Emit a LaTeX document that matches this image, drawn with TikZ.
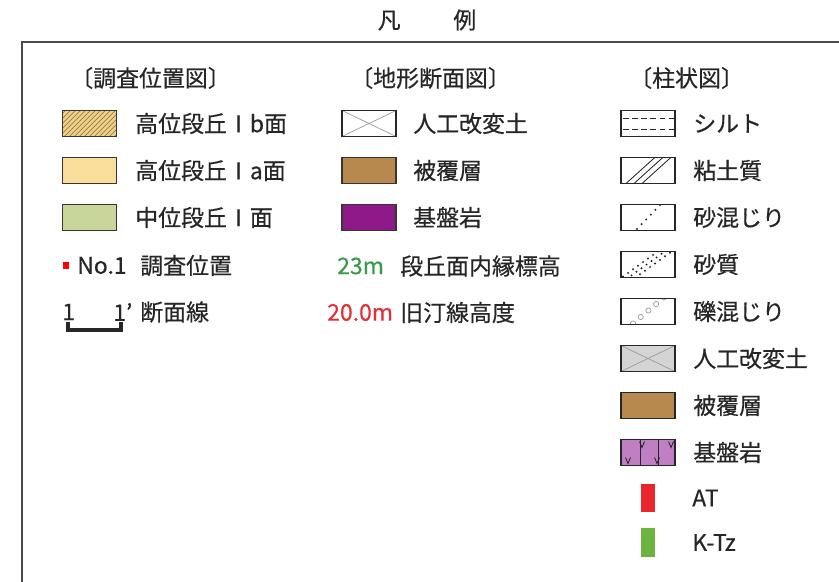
\documentclass[tikz,border=0pt]{standalone}
\usepackage{fontspec}
\setmainfont{Noto Sans CJK JP}[FakeBold=0.5]
\usetikzlibrary{positioning}

\definecolor{ink}{HTML}{262626}
\definecolor{framegray}{HTML}{4A4A4A}
\definecolor{boxline}{HTML}{3A3530}
\definecolor{terraceIb}{HTML}{EFD28A}
\definecolor{hatchbrown}{HTML}{9A7A45}
\definecolor{terraceIa}{HTML}{F9DD9A}
\definecolor{terraceM}{HTML}{C8D69C}
\definecolor{coverbrown}{HTML}{B8894F}
\definecolor{rockpurple}{HTML}{8E1A8A}
\definecolor{rockpink}{HTML}{C07FC2}
\definecolor{fillgray}{HTML}{D4D4D4}
\definecolor{pebble}{HTML}{9A9A9A}
\definecolor{atred}{HTML}{E8262C}
\definecolor{ktzgreen}{HTML}{6DB33F}
\definecolor{elevgreen}{HTML}{3A9A4A}
\definecolor{elevred}{HTML}{E0303A}

\begin{document}
\begin{tikzpicture}[x=0.025cm, y=-0.025cm]
	\tikzset{swatch/.style = {draw=boxline, line width=0.9pt, minimum width=1.35cm, minimum height=0.65cm, inner sep=0pt}}
	\tikzset{item/.style = {anchor=west, inner sep=0pt, text=ink, font=\fontsize{16.3}{18}\selectfont}}
	\tikzset{bar/.style = {minimum width=0.35cm, minimum height=0.7cm, inner sep=0pt}}
	\tikzset{crossed/.style = {path picture={
		\draw[pebble, line width=0.5pt] (path picture bounding box.south west) -- (path picture bounding box.north east);
		\draw[pebble, line width=0.5pt] (path picture bounding box.north west) -- (path picture bounding box.south east);}}}
	\useasboundingbox (0,0) rectangle (839,582);
	\draw[framegray, line width=2pt] (22,582) -- (22,42) -- (839,42);
	\node[item, anchor=center] (title) at (427,20) {凡\hspace{2.3em}例};

	% column: survey map
	\node[item] (hmap) at (70,78) {〔調査位置図〕};
	\node[swatch, fill=terraceIb, path picture={
		\foreach \i in {-28,-23,...,58}
			\draw[hatchbrown, line width=0.5pt] (path picture bounding box.south west) ++(\i,0) -- ++(28,-28);}] (ib) at (89.5,123.5) {};
	\node[swatch, fill=terraceIa] (ia) at (89.5,170.5) {};
	\node[swatch, fill=terraceM] (mi) at (89.5,217.5) {};
	\node[item] (ibtext) at (135,123.5) {高位段丘Ⅰb面};
	\node[item] (iatext) at (135,170.5) {高位段丘Ⅰa面};
	\node[item] (mitext) at (135,217.5) {中位段丘Ⅰ面};
	\node[fill=red, minimum size=0.17cm, inner sep=0pt] (spot) at (66,265.5) {};
	\node[item] (no1) at (77,265.5) {No.1};
	\node[item] (spottext) at (140,265.5) {調査位置};
	\node[item] (sa) at (62,312) {1};
	\node[item] (sb) at (113,312) {1’};
	\coordinate (sa1) at (68,322);
	\coordinate (sb1) at (121,322);
	\draw[ink, line width=2.2pt] (sa1) |- (94.5,330) -| (sb1);
	\node[item] (sectext) at (140,312) {断面線};

	% column: topographic section
	\node[item] (hsec) at (350,78) {〔地形断面図〕};
	\node[swatch, draw=ink, crossed] (fill2) at (369,123.5) {};
	\node[swatch, fill=coverbrown] (cover2) at (369,170.5) {};
	\node[swatch, fill=rockpurple] (rock2) at (369,217.5) {};
	\node[item] (fill2text) at (413,123.5) {人工改変土};
	\node[item] (cover2text) at (413,170.5) {被覆層};
	\node[item] (rock2text) at (413,217.5) {基盤岩};
	\node[item, text=elevgreen] (inner) at (337,266) {23m};
	\node[item] (innertext) at (400,266) {段丘面内縁標高};
	\node[item, text=elevred] (shore) at (327,312.5) {20.0m};
	\node[item] (shoretext) at (400,312.5) {旧汀線高度};

	% column: columnar section
	\node[item] (hcol) at (629,78) {〔柱状図〕};
	\node[swatch, draw=ink, path picture={
		\draw[ink, line width=0.5pt, dash pattern=on 4pt off 2.5pt] (path picture bounding box.west) ++(2,-5.5) -- ++(52,0);
		\draw[ink, line width=0.5pt, dash pattern=on 4pt off 2.5pt] (path picture bounding box.west) ++(2,5.5) -- ++(52,0);}] (silt) at (648,123.5) {};
	\node[swatch, draw=ink, path picture={
		\foreach \i in {5,13,21}
			\draw[ink, line width=0.6pt] (path picture bounding box.south west) ++(\i,0) -- ++(31,-28);}] (clay) at (648,170.5) {};
	\node[swatch, draw=ink, path picture={
		\foreach \i in {0,...,5}
			\fill[ink] (path picture bounding box.south west) ++(16+4.6*\i,-1.5-4.8*\i) circle (1.1);}] (sandy) at (648,217.5) {};
	\node[swatch, draw=ink, path picture={
		\foreach \r in {0,1,2}
			\foreach \i in {0,...,8}
				\fill[ink] (path picture bounding box.south west) ++(2+5*\i+3.5*\r,-1-3.6*\i+2.5*\r) circle (1.1);}] (sand) at (648,264.5) {};
	\node[swatch, draw=ink, path picture={
		\foreach \i in {0,...,4}
			\draw[pebble, line width=0.5pt] (path picture bounding box.south west) ++(12+7.7*\i,-1-6.5*\i) circle (2.6);}] (gravel) at (648,311.5) {};
	\node[swatch, draw=ink, fill=fillgray, crossed] (fill3) at (648,358.5) {};
	\node[swatch, draw=ink, fill=coverbrown] (cover3) at (648,405.5) {};
	\node[swatch, draw=ink, fill=rockpink, path picture={
		\draw[ink, line width=0.6pt] (path picture bounding box.north west) ++(19,0) -- ++(0,30);
		\draw[ink, line width=0.6pt] (path picture bounding box.north west) ++(37,0) -- ++(0,30);
		\foreach \vx/\vy in {21/2, 50/2, 7/18, 36/18}
			\draw[ink, line width=0.6pt] (path picture bounding box.north west) ++(\vx-2.5,\vy) -- ++(2.5,6) -- ++(2.5,-6);}] (rock3) at (648,452.5) {};
	\node[item] (silttext) at (693,123.5) {シルト};
	\node[item] (claytext) at (693,170.5) {粘土質};
	\node[item] (sandytext) at (693,217.5) {砂混じり};
	\node[item] (sandtext) at (693,264.5) {砂質};
	\node[item] (graveltext) at (693,311.5) {礫混じり};
	\node[item] (fill3text) at (693,358.5) {人工改変土};
	\node[item] (cover3text) at (693,405.5) {被覆層};
	\node[item] (rock3text) at (693,452.5) {基盤岩};
	\node[bar, fill=atred] (at) at (648,498) {};
	\node[bar, fill=ktzgreen] (ktz) at (648,542.5) {};
	\node[item] (attext) at (692,498) {AT};
	\node[item] (ktztext) at (692,542.5) {K-Tz};
\end{tikzpicture}
\end{document}
